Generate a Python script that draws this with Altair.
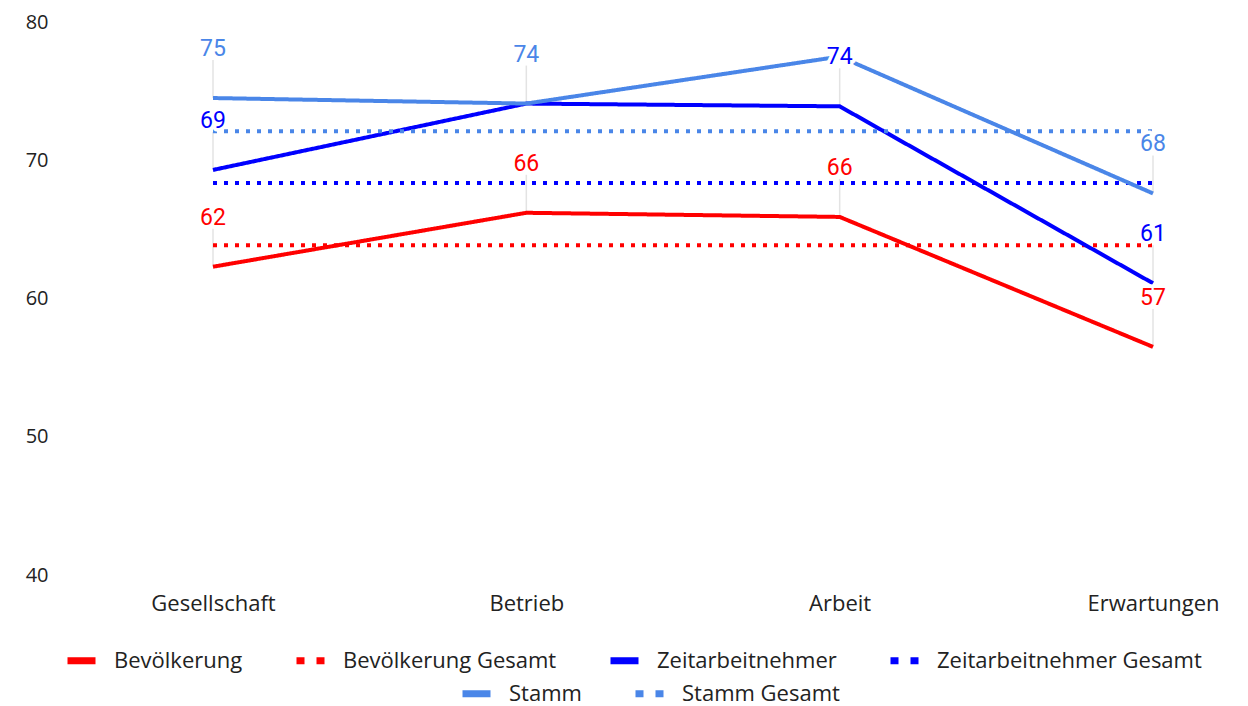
import altair as alt
import pandas as pd

categories = ["Gesellschaft", "Betrieb", "Arbeit", "Erwartungen"]

bevoelkerung = [62.3, 66.2, 65.9, 56.5]
zeitarbeitnehmer = [69.3, 74.1, 73.9, 61.1]
stamm = [74.5, 74.1, 77.5, 67.6]

bevoelkerung_gesamt = 63.85
zeitarbeitnehmer_gesamt = 68.35
stamm_gesamt = 72.1

bevoelkerung_labels = ["62", "66", "66", "57"]
zeitarbeitnehmer_labels = ["69", "", "74", "61"]
stamm_labels = ["75", "74", "", "68"]

series_names = ["Bevölkerung", "Bevölkerung Gesamt", "Zeitarbeitnehmer",
                "Zeitarbeitnehmer Gesamt", "Stamm", "Stamm Gesamt"]
series_colors = ["#ff0000", "#ff0000", "#0000ff", "#0000ff", "#4a86e8", "#4a86e8"]
line_dashes = [[1, 0], [4, 7], [1, 0], [4, 7], [1, 0], [4, 7]]
legend_dashes = [[1, 0], [8, 12], [1, 0], [8, 12], [1, 0], [8, 12]]

# ---- tables built from the arrays ----
rows = []
series_values = {
    "Bevölkerung": bevoelkerung,
    "Bevölkerung Gesamt": [bevoelkerung_gesamt] * len(categories),
    "Zeitarbeitnehmer": zeitarbeitnehmer,
    "Zeitarbeitnehmer Gesamt": [zeitarbeitnehmer_gesamt] * len(categories),
    "Stamm": stamm,
    "Stamm Gesamt": [stamm_gesamt] * len(categories),
}
for s in series_names:
    for i, (c, v) in enumerate(zip(categories, series_values[s])):
        rows.append({"series": s, "category": c, "value": v, "idx": i})
df = pd.DataFrame(rows)

lab_rows = []
for s, vals, labs in [("Bevölkerung", bevoelkerung, bevoelkerung_labels),
                      ("Zeitarbeitnehmer", zeitarbeitnehmer, zeitarbeitnehmer_labels),
                      ("Stamm", stamm, stamm_labels)]:
    for c, v, l in zip(categories, vals, labs):
        if l:
            lab_rows.append({"series": s, "category": c, "value": v, "label": l})
lab_df = pd.DataFrame(lab_rows)

AX_FONT = "Open Sans"
LBL_FONT = "Roboto"

x_enc = alt.X("category:N", sort=categories,
              scale=alt.Scale(type="point", range=[156, 1096], padding=0),
              axis=alt.Axis(title=None, labelAngle=0, domain=False, ticks=False,
                            grid=False, labelFont=AX_FONT, labelFontSize=22,
                            labelColor="#222222", labelPadding=18))
y_enc = alt.Y("value:Q",
              scale=alt.Scale(domain=[40, 80], nice=False, zero=False),
              axis=alt.Axis(title=None, values=[40, 50, 60, 70, 80], domain=False,
                            ticks=False, grid=False, labelFont=AX_FONT,
                            labelFontSize=20, labelColor="#222222", labelPadding=9))

all_color = alt.Color("series:N", scale=alt.Scale(domain=series_names, range=series_colors),
                      legend=None)

leaders = alt.Chart(lab_df).mark_rule(color="#e3e3e3", strokeWidth=1.5, y2Offset=-38).encode(
    x=x_enc, y=y_enc, y2="value:Q")

lines = alt.Chart(df).mark_line(strokeWidth=4).encode(
    x=x_enc, y=y_enc, color=all_color,
    strokeDash=alt.StrokeDash("series:N",
                              scale=alt.Scale(domain=series_names, range=line_dashes),
                              legend=None),
    order=alt.Order("idx:Q"),
)

halo = alt.Chart(lab_df).mark_text(font=LBL_FONT, fontSize=23, baseline="alphabetic",
                                   dy=-42, color="white", stroke="white",
                                   strokeWidth=7, strokeJoin="round").encode(
    x=x_enc, y=y_enc, text="label:N")

texts = alt.Chart(lab_df).mark_text(font=LBL_FONT, fontSize=23, baseline="alphabetic",
                                    dy=-42).encode(
    x=x_enc, y=y_enc, text="label:N", color=all_color)


def legend_layer(names, lx, ly):
    idx = [series_names.index(n) for n in names]
    leg = dict(orient="none", legendX=lx, legendY=ly, direction="horizontal",
               title=None, symbolType="stroke", symbolSize=784,
               symbolStrokeWidth=7, labelFont=AX_FONT, labelFontSize=22,
               labelColor="#222222", labelOffset=15, columnPadding=39,
               padding=0, labelLimit=0)
    return alt.Chart(df).transform_filter("false").mark_line().encode(
        x=x_enc, y=y_enc,
        color=alt.Color("series:N",
                        scale=alt.Scale(domain=names, range=[series_colors[i] for i in idx]),
                        legend=alt.Legend(**leg)),
        strokeDash=alt.StrokeDash("series:N",
                                  scale=alt.Scale(domain=names,
                                                  range=[legend_dashes[i] for i in idx]),
                                  legend=alt.Legend(**leg)),
    )


legend1 = legend_layer(series_names[:4], 7, 621)
legend2 = legend_layer(series_names[4:], 402, 654)

chart = alt.layer(leaders, lines, halo, texts, legend1, legend2).resolve_scale(
    color="independent", strokeDash="independent"
).properties(
    width=1183, height=553,
    autosize=alt.AutoSizeParams(type="none"),
    padding={"left": 49, "top": 14, "right": 0, "bottom": 131},
    background="white",
).configure_view(stroke=None)

chart.save("out.html", embed_options={"renderer": "svg", "actions": False})
